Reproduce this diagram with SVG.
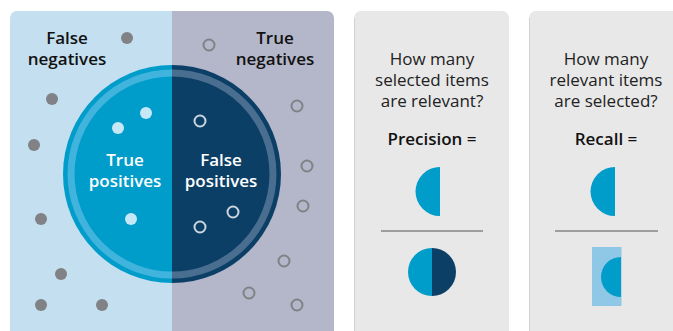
<svg xmlns="http://www.w3.org/2000/svg" width="673" height="331" viewBox="0 0 673 331">
<style>
text{font-family:"Open Sans","Liberation Sans",sans-serif;text-anchor:middle}
.h{font-size:17px;font-weight:600;fill:#111}
.w{font-size:17px;font-weight:600;fill:#fff}
.q{font-size:17px;font-weight:400;fill:#222}
.fn{fill:#808285}
.tn{fill:none;stroke:#808285;stroke-width:2}
.tp{fill:#c6e8f6}
.fp{fill:none;stroke:#c9d5df;stroke-width:2}
.blue{fill:#009cca}
.dark{fill:#0c3f66}
</style>
<rect width="673" height="331" fill="#fff"/>
<g id="confusion">
  <path d="M10 18 a7 7 0 0 1 7 -7 H172 V340 H10 Z" fill="#c3dff0"/>
  <path d="M172 11 H327 a7 7 0 0 1 7 7 V340 H172 Z" fill="#b4b6c9"/>
  <path d="M172 65 A109 109 0 0 0 172 283 Z" class="blue"/>
  <path d="M172 65 A109 109 0 0 1 172 283 Z" class="dark"/>
  <path d="M172 73 A101 101 0 0 0 172 275" fill="none" stroke="#40b4dc" stroke-width="7"/>
  <path d="M172 73 A101 101 0 0 1 172 275" fill="none" stroke="#4a6e90" stroke-width="7"/>
  <path d="M172 79 A95 95 0 0 0 172 269 Z" class="blue"/>
  <path d="M172 79 A95 95 0 0 1 172 269 Z" class="dark"/>
</g>
<g id="false-negatives">
  <text class="h" x="67" y="43.5">False</text>
  <text class="h" x="67" y="64.5">negatives</text>
  <circle class="fn" cx="127" cy="38" r="6"/>
  <circle class="fn" cx="52" cy="99" r="6"/>
  <circle class="fn" cx="34" cy="145" r="6"/>
  <circle class="fn" cx="41" cy="219" r="6"/>
  <circle class="fn" cx="61" cy="274" r="6"/>
  <circle class="fn" cx="41" cy="305" r="6"/>
  <circle class="fn" cx="102" cy="305" r="6"/>
</g>
<g id="true-negatives">
  <text class="h" x="275" y="43.5">True</text>
  <text class="h" x="275" y="64.5">negatives</text>
  <circle class="tn" cx="209" cy="45" r="5.5"/>
  <circle class="tn" cx="297" cy="106" r="5.5"/>
  <circle class="tn" cx="307" cy="166" r="5.5"/>
  <circle class="tn" cx="303" cy="206" r="5.5"/>
  <circle class="tn" cx="284" cy="261" r="5.5"/>
  <circle class="tn" cx="249" cy="293" r="5.5"/>
  <circle class="tn" cx="297" cy="305" r="5.5"/>
</g>
<g id="true-positives">
  <text class="w" x="125" y="166">True</text>
  <text class="w" x="125" y="187">positives</text>
  <circle class="tp" cx="146" cy="113" r="6"/>
  <circle class="tp" cx="118" cy="128" r="6"/>
  <circle class="tp" cx="131" cy="219" r="6"/>
</g>
<g id="false-positives">
  <text class="w" x="221" y="166">False</text>
  <text class="w" x="221" y="187">positives</text>
  <circle class="fp" cx="200" cy="121" r="5.5"/>
  <circle class="fp" cx="233" cy="212" r="5.5"/>
  <circle class="fp" cx="200" cy="227" r="5.5"/>
</g>
<g id="precision">
  <path d="M354 18 a7 7 0 0 1 7 -7 H502 a7 7 0 0 1 7 7 V340 H354 Z" fill="#e8e8e8"/>
  <line x1="354.5" y1="18" x2="354.5" y2="340" stroke="#d2d2d2" stroke-width="1"/>
  <text class="q" x="432" y="65">How many</text>
  <text class="q" x="432" y="86">selected items</text>
  <text class="q" x="432" y="107">are relevant?</text>
  <text class="h" x="432" y="145">Precision =</text>
  <path d="M440 167 A24.5 24.5 0 0 0 440 216 Z" class="blue"/>
  <line x1="381" y1="231" x2="483" y2="231" stroke="#555" stroke-width="1"/>
  <path d="M432 248 A24 24 0 0 0 432 296 Z" class="blue"/>
  <path d="M432 248 A24 24 0 0 1 432 296 Z" class="dark"/>
</g>
<g id="recall">
  <path d="M529 18 a7 7 0 0 1 7 -7 H690 V340 H529 Z" fill="#e8e8e8"/>
  <line x1="529.5" y1="18" x2="529.5" y2="340" stroke="#d2d2d2" stroke-width="1"/>
  <text class="q" x="606" y="65">How many</text>
  <text class="q" x="606" y="86">relevant items</text>
  <text class="q" x="606" y="107">are selected?</text>
  <text class="h" x="606" y="145">Recall =</text>
  <path d="M615 167 A24.5 24.5 0 0 0 615 216 Z" class="blue"/>
  <line x1="555" y1="231" x2="658" y2="231" stroke="#555" stroke-width="1"/>
  <rect x="592" y="247" width="29.5" height="59" fill="#8fc8e6"/>
  <path d="M621 257 A20 20 0 0 0 621 297 Z" class="blue"/>
</g>
</svg>
